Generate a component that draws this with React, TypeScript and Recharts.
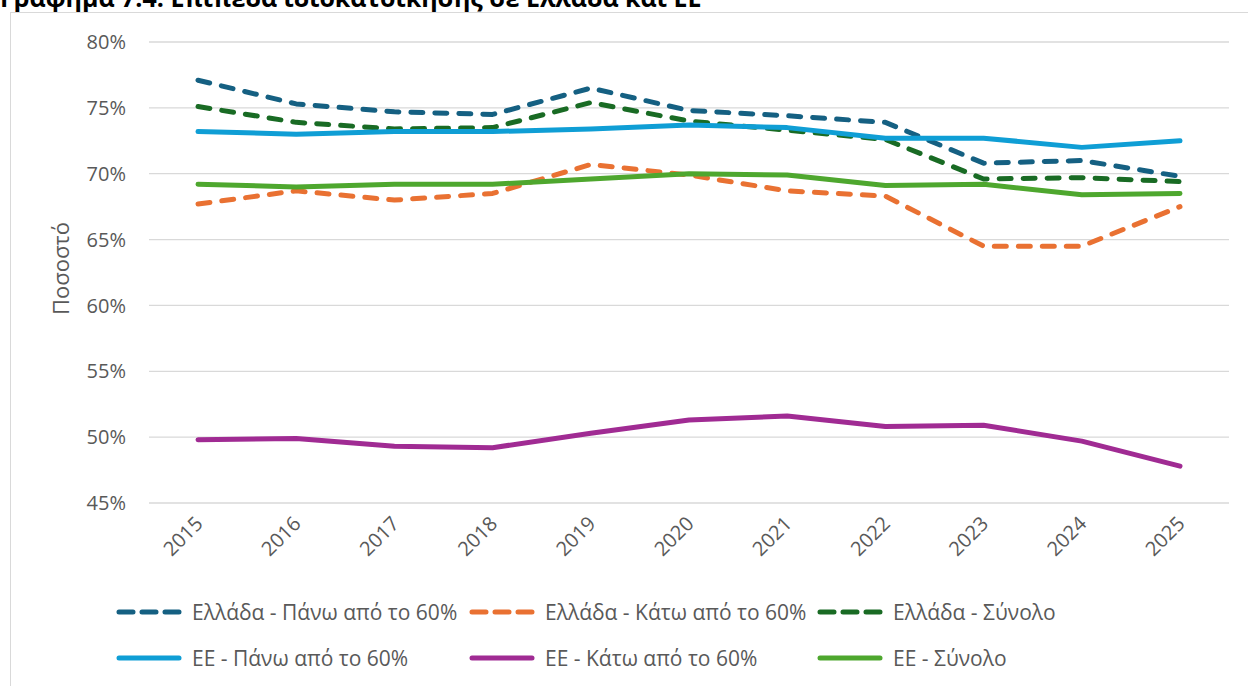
import React from "react";
import { LineChart, Line, XAxis, YAxis, CartesianGrid, Legend, Label } from "recharts";

// values (percent)
const years = ["2015", "2016", "2017", "2018", "2019", "2020", "2021", "2022", "2023", "2024", "2025"];
const greeceAbove60 = [77.1, 75.3, 74.7, 74.5, 76.5, 74.8, 74.4, 73.9, 70.8, 71.0, 69.8];
const greeceBelow60 = [67.7, 68.7, 68.0, 68.5, 70.7, 69.9, 68.7, 68.3, 64.5, 64.5, 67.5];
const greeceTotal = [75.1, 73.9, 73.4, 73.5, 75.4, 74.0, 73.3, 72.6, 69.6, 69.7, 69.4];
const euAbove60 = [73.2, 73.0, 73.2, 73.2, 73.4, 73.7, 73.5, 72.7, 72.7, 72.0, 72.5];
const euBelow60 = [49.8, 49.9, 49.3, 49.2, 50.3, 51.3, 51.6, 50.8, 50.9, 49.7, 47.8];
const euTotal = [69.2, 69.0, 69.2, 69.2, 69.6, 70.0, 69.9, 69.1, 69.2, 68.4, 68.5];
const yTicks = [45, 50, 55, 60, 65, 70, 75, 80];

const series = [
  { key: "grAbove", label: "Ελλάδα - Πάνω από το 60%", color: "#156082", dashed: true, values: greeceAbove60 },
  { key: "grBelow", label: "Ελλάδα - Κάτω από το 60%", color: "#E97132", dashed: true, values: greeceBelow60 },
  { key: "grTotal", label: "Ελλάδα - Σύνολο", color: "#196B24", dashed: true, values: greeceTotal },
  { key: "euAbove", label: "ΕΕ - Πάνω από το 60%", color: "#0F9ED5", dashed: false, values: euAbove60 },
  { key: "euBelow", label: "ΕΕ - Κάτω από το 60%", color: "#A02B93", dashed: false, values: euBelow60 },
  { key: "euTotal", label: "ΕΕ - Σύνολο", color: "#4EA72E", dashed: false, values: euTotal },
];

const data = years.map((year, i) => {
  const row: Record<string, string | number> = { year };
  series.forEach((s) => (row[s.key] = s.values[i]));
  return row;
});

const FONT = "'Open Sans', 'Noto Sans', sans-serif";
const TEXT = "#595959";

function YearTick({ x, y, payload }: any) {
  return (
    <g transform={`translate(${x + 6},${y + 22})`}>
      <text textAnchor="end" transform="rotate(-45)" fill={TEXT} fontSize={20} fontFamily={FONT}>
        {payload.value}
      </text>
    </g>
  );
}

function AxisTitle({ viewBox }: any) {
  const cx = viewBox.x + 60;
  const cy = viewBox.y + viewBox.height / 2 - 4;
  return (
    <text
      x={cx}
      y={cy}
      transform={`rotate(-90 ${cx} ${cy})`}
      textAnchor="middle"
      dominantBaseline="central"
      fill={TEXT}
      fontSize={22}
      fontFamily={FONT}
    >
      Ποσοστό
    </text>
  );
}

function LegendBox() {
  const rows = [series.slice(0, 3), series.slice(3)];
  return (
    <div style={{ position: "relative", width: 1248, height: 113, fontFamily: FONT }}>
      {rows.map((row, r) =>
        row.map((s, c) => (
          <div
            key={s.key}
            style={{
              position: "absolute",
              left: [116, 469, 817][c],
              top: (r === 0 ? 39 : 85) - 15,
              height: 30,
              display: "flex",
              alignItems: "center",
              whiteSpace: "nowrap",
            }}
          >
            <svg width={66} height={10} style={{ marginRight: 10 }}>
              <line
                x1={3}
                y1={5}
                x2={63}
                y2={5}
                stroke={s.color}
                strokeWidth={5}
                strokeLinecap="round"
                strokeDasharray={s.dashed ? "14 9" : undefined}
              />
            </svg>
            <span style={{ color: TEXT, fontSize: 21 }}>{s.label}</span>
          </div>
        ))
      )}
    </div>
  );
}

export default function App() {
  return (
    <div
      style={{
        position: "absolute",
        top: 0,
        left: 0,
        width: 1248,
        height: 686,
        overflow: "hidden",
        background: "#fff",
      }}
    >
      <div
        style={{
          position: "absolute",
          left: 0,
          top: -20,
          fontFamily: FONT,
          fontWeight: 700,
          fontSize: 25,
          color: "#000",
          whiteSpace: "nowrap",
        }}
      >
        Γράφημα 7.4: Επίπεδα ιδιοκατοίκησης σε Ελλάδα και ΕΕ
      </div>
      <div
        style={{
          position: "absolute",
          left: 10,
          top: 12,
          width: 1300,
          height: 700,
          border: "1.5px solid #d9d9d9",
        }}
      />
      <div style={{ position: "absolute", left: 0, top: 0 }}>
        <LineChart width={1248} height={686} data={data} margin={{ top: 42, right: 19, bottom: 0, left: 0 }}>
          <CartesianGrid vertical={false} stroke="#d9d9d9" strokeWidth={1.3} />
          <XAxis
            dataKey="year"
            axisLine={false}
            tickLine={false}
            tickSize={0}
            tickMargin={0}
            height={70}
            interval={0}
            padding={{ left: 49, right: 49 }}
            tick={<YearTick />}
          />
          <YAxis
            domain={[45, 80]}
            ticks={yTicks}
            width={149}
            axisLine={false}
            tickLine={false}
            tickSize={0}
            tickMargin={23}
            tickFormatter={(v: number) => `${v}%`}
            tick={{ fill: TEXT, fontSize: 20, fontFamily: FONT }}
          >
            <Label content={<AxisTitle />} />
          </YAxis>
          <Legend verticalAlign="bottom" wrapperStyle={{ left: 0, width: 1248 }} content={<LegendBox />} />
          {series.map((s) => (
            <Line
              key={s.key}
              dataKey={s.key}
              name={s.label}
              type="linear"
              stroke={s.color}
              strokeWidth={5}
              strokeLinecap="round"
              strokeLinejoin="round"
              strokeDasharray={s.dashed ? "12 12" : undefined}
              dot={false}
              activeDot={false}
              isAnimationActive={false}
            />
          ))}
        </LineChart>
      </div>
    </div>
  );
}
